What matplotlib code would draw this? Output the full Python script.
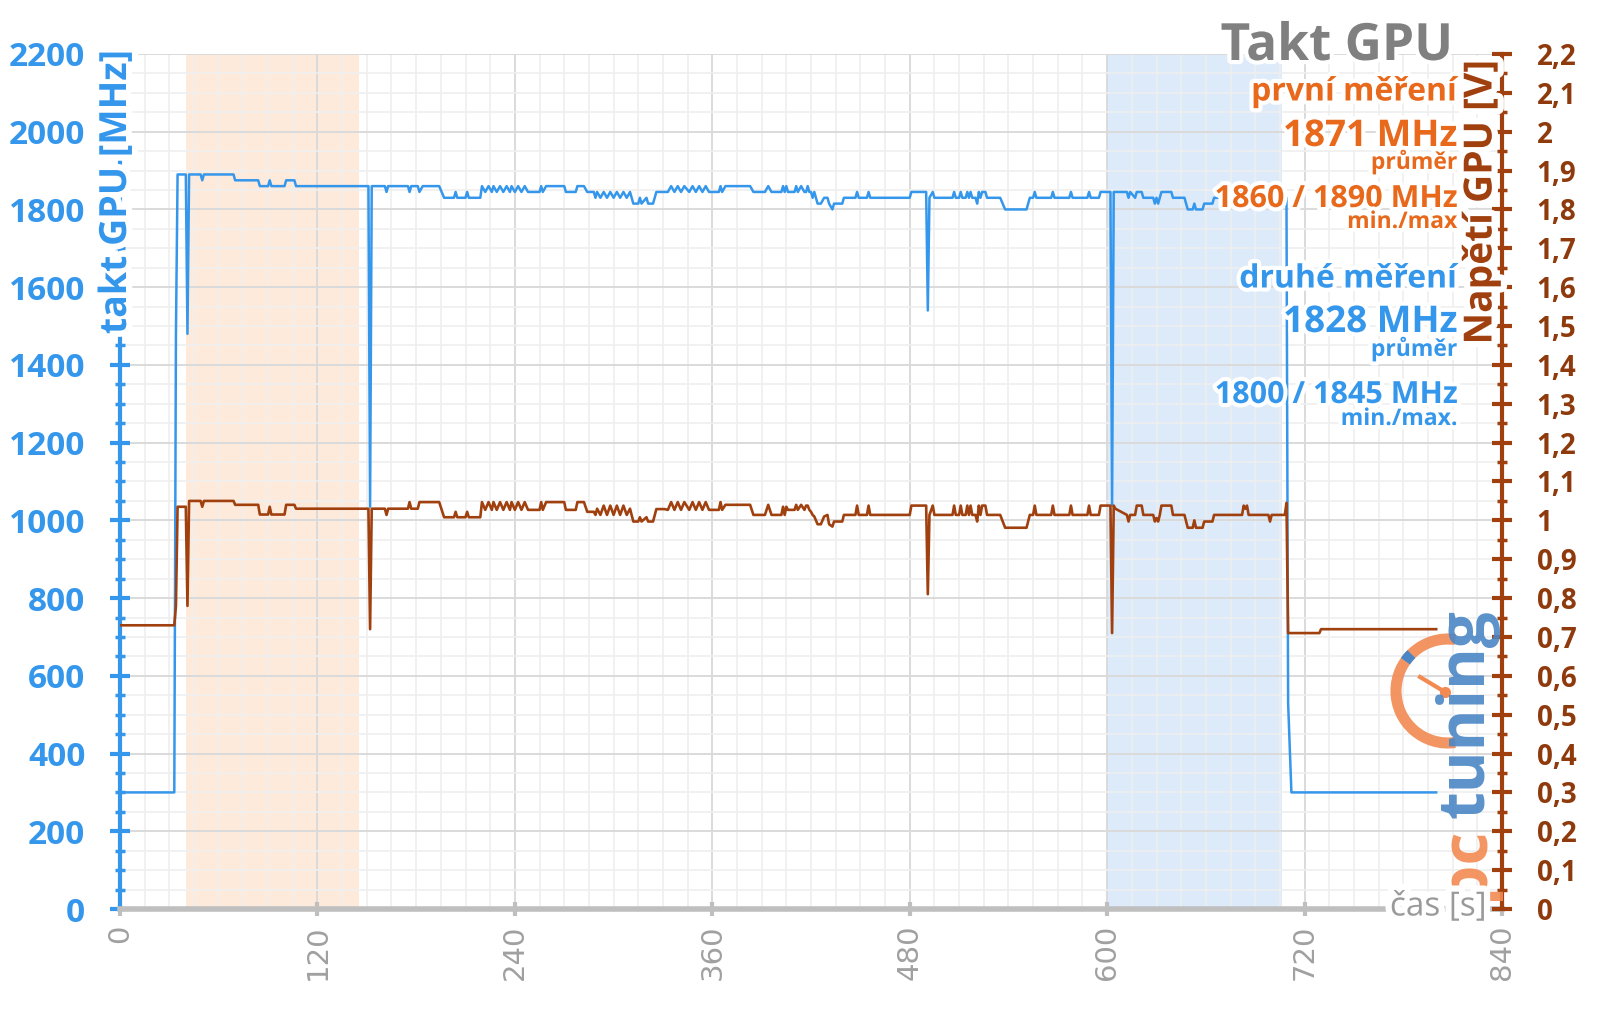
import numpy as np
import matplotlib
matplotlib.use('Agg')
import matplotlib.pyplot as plt
import matplotlib.patheffects as pe
from matplotlib.patches import Arc
from matplotlib.lines import Line2D

# barvy
modra = '#3597EC'
hneda = '#A0400F'
hneda_txt = '#8E3A0C'
oranzova = '#E8691C'
seda = '#A0A0A0'

# casove body zateze [s] (spolecne pro takt i napeti)
cas = [0, 33, 34, 35, 40, 41, 42, 49, 50, 51, 69, 70, 84, 85, 90, 91, 92, 100, 101, 106, 107, 151, 152, 153,
       161, 162, 163, 175, 176, 177, 181, 182, 184, 194,
       197, 203, 204, 205, 210, 211, 212, 219, 220, 222,
       224, 226, 227, 229, 231, 233, 235, 237, 238, 240,
       242, 244, 246, 248, 255, 256, 257, 259, 270, 271,
       277, 278, 282, 284, 288, 289, 290, 292, 294, 296,
       298, 300, 302, 304, 306, 308, 310, 312, 315, 316,
       317, 320, 321, 324, 326, 331, 333, 335, 337, 339,
       341, 343, 346, 348, 350, 352, 354, 356, 358, 364,
       365, 366, 368, 383, 385, 392, 394, 396, 402, 403,
       404, 405, 406, 410, 411, 412, 414, 416,
       417, 418, 419, 420, 421, 422, 424, 426, 428, 430,
       431, 433, 434, 439, 440, 447, 448, 449, 454, 455,
       456, 480, 481, 490, 491, 492, 494, 495, 506, 507,
       508, 510, 511, 512, 514, 515, 516, 517, 518, 520,
       521, 522, 523, 524, 526, 527, 535, 538, 551, 553,
       555, 556, 557, 566, 567, 568, 577, 578, 579, 588,
       589, 590, 595, 596, 602, 603, 604,
       605, 612, 613, 614, 617, 618, 621, 622, 628, 629,
       630, 631, 632, 633, 639, 640, 647, 649, 652, 653,
       654, 658, 659, 664, 665, 682, 683, 684, 685, 686,
       698, 699, 700, 708, 709]

takt = [300, 300, 1480, 1890, 1890, 1480, 1890, 1890, 1875, 1890, 1890, 1875, 1875, 1860, 1860, 1875, 1860, 1860, 1875, 1875, 1860, 1860, 1035, 1860,
        1860, 1845, 1860, 1860, 1845, 1860, 1860, 1845, 1860, 1860,
        1830, 1830, 1845, 1830, 1830, 1845, 1830, 1830, 1860, 1845,
        1860, 1845, 1860, 1845, 1860, 1845, 1860, 1845, 1860, 1845,
        1860, 1845, 1860, 1845, 1845, 1860, 1845, 1860, 1860, 1845,
        1845, 1860, 1860, 1845, 1845, 1830, 1845, 1830, 1845, 1830,
        1845, 1830, 1845, 1830, 1845, 1830, 1845, 1815, 1815, 1830,
        1815, 1830, 1815, 1815, 1845, 1845, 1845, 1860, 1845, 1860,
        1845, 1860, 1845, 1860, 1845, 1860, 1845, 1860, 1845, 1845,
        1860, 1845, 1860, 1860, 1845, 1845, 1860, 1845, 1845, 1860,
        1845, 1860, 1845, 1845, 1860, 1845, 1860, 1845,
        1845, 1860, 1845, 1845, 1830, 1845, 1815, 1815, 1830, 1830,
        1815, 1800, 1815, 1815, 1830, 1830, 1845, 1830, 1830, 1845,
        1830, 1830, 1845, 1845, 1540, 1830, 1845, 1830, 1830, 1845,
        1830, 1830, 1845, 1830, 1830, 1845, 1830, 1845, 1830, 1830,
        1815, 1845, 1830, 1845, 1845, 1830, 1830, 1800, 1800, 1830,
        1830, 1845, 1830, 1830, 1845, 1830, 1830, 1845, 1830, 1830,
        1845, 1830, 1830, 1845, 1845, 1040, 1845,
        1845, 1845, 1830, 1845, 1830, 1845, 1845, 1830, 1830, 1815,
        1830, 1815, 1830, 1845, 1845, 1830, 1830, 1800, 1800, 1815,
        1800, 1800, 1815, 1815, 1830, 1830, 1845, 1830, 1845, 1830,
        1830, 1815, 1830, 1830, 1830]

napeti = [0.73, 0.73, 0.78, 1.035, 1.035, 0.78, 1.05, 1.05, 1.035, 1.05, 1.05, 1.04, 1.04, 1.015, 1.015, 1.035, 1.015, 1.015, 1.04, 1.04, 1.03, 1.03, 0.72, 1.03,
          1.03, 1.014, 1.03, 1.03, 1.047, 1.03, 1.03, 1.047, 1.047, 1.047,
          1.008, 1.008, 1.022, 1.008, 1.008, 1.022, 1.008, 1.008, 1.047, 1.027,
          1.047, 1.027, 1.047, 1.027, 1.047, 1.027, 1.047, 1.027, 1.047, 1.027,
          1.047, 1.027, 1.047, 1.027, 1.027, 1.047, 1.027, 1.047, 1.047, 1.027,
          1.027, 1.047, 1.047, 1.022, 1.022, 1.014, 1.03, 1.014, 1.038, 1.014,
          1.038, 1.014, 1.038, 1.014, 1.038, 1.014, 1.03, 0.997, 0.997, 1.008,
          0.997, 1.008, 0.997, 0.997, 1.029, 1.029, 1.027, 1.047, 1.027, 1.047,
          1.027, 1.047, 1.027, 1.047, 1.027, 1.047, 1.027, 1.047, 1.027, 1.027,
          1.047, 1.027, 1.04, 1.04, 1.014, 1.014, 1.04, 1.014, 1.014, 1.035,
          1.014, 1.035, 1.027, 1.027, 1.04, 1.027, 1.04, 1.027,
          1.038, 1.038, 1.027, 1.022, 1.014, 1.01, 0.99, 0.99, 1.01, 1.014,
          0.99, 0.984, 0.997, 0.997, 1.014, 1.014, 1.038, 1.014, 1.014, 1.038,
          1.014, 1.014, 1.038, 1.038, 0.81, 1.014, 1.038, 1.014, 1.014, 1.038,
          1.014, 1.014, 1.038, 1.014, 1.014, 1.038, 1.014, 1.038, 1.014, 1.014,
          0.997, 1.038, 1.014, 1.038, 1.038, 1.014, 1.014, 0.981, 0.981, 1.014,
          1.014, 1.038, 1.014, 1.014, 1.038, 1.014, 1.014, 1.038, 1.014, 1.014,
          1.038, 1.014, 1.014, 1.038, 1.038, 0.71, 1.038,
          1.03, 1.014, 0.997, 1.014, 1.014, 1.038, 1.038, 1.014, 1.014, 0.997,
          1.006, 0.997, 1.014, 1.038, 1.038, 1.014, 1.014, 0.981, 0.981, 1.0,
          0.981, 0.981, 0.997, 0.997, 1.014, 1.014, 1.038, 1.03, 1.038, 1.014,
          1.014, 0.997, 1.014, 1.014, 1.045]

# dobeh po zatezi
cas_takt_konec = [710, 712, 800]
takt_konec = [530, 300, 300]
cas_nap_konec = [710, 729, 730, 800]
nap_konec = [0.71, 0.71, 0.72, 0.72]

# mereni (zvyraznene oblasti)
mereni1 = (40, 145)
mereni2 = (600, 706)

napeti_popisky = ['0', '0,1', '0,2', '0,3', '0,4', '0,5', '0,6', '0,7', '0,8', '0,9', '1',
                  '1,1', '1,2', '1,3', '1,4', '1,5', '1,6', '1,7', '1,8', '1,9', '2', '2,1', '2,2']

plt.rcParams['font.family'] = ['Open Sans', 'DejaVu Sans']
halo = [pe.withStroke(linewidth=6, foreground='white')]
halo_osa = [pe.withStroke(linewidth=9, foreground='white')]

fig = plt.figure(figsize=(16, 10.09), dpi=100)
ax = fig.add_axes([0.075, 0.0991, 0.86375, 0.8474])

ax.axvspan(*mereni1, color='#FDEADB', zorder=0, lw=0)
ax.axvspan(*mereni2, color='#DCEAFA', zorder=0, lw=0)

ax.plot(cas + cas_takt_konec, takt + takt_konec, color=modra, lw=1.8, zorder=3)

ax.set_xlim(0, 840)
ax.set_ylim(0, 2200)
ax.set_xticks(np.arange(0, 841, 120))
ax.set_xticks(np.arange(0, 841, 15), minor=True)
ax.set_yticks(np.arange(0, 2201, 200))
ax.set_yticks(np.arange(0, 2201, 50), minor=True)
ax.set_axisbelow(True)
ax.grid(which='major', color='#DADADA', lw=1.4)
ax.grid(which='minor', color='#EFEFEF', lw=1.2)

for s in ['top', 'right']:
    ax.spines[s].set_visible(False)
ax.spines['left'].set_color(modra)
ax.spines['left'].set_linewidth(3)
ax.spines['bottom'].set_color('#BFBFBF')
ax.spines['bottom'].set_linewidth(4)

ax.tick_params(axis='y', which='major', direction='inout', length=14, width=3, color=modra,
               labelcolor=modra, labelsize=24, pad=18)
ax.tick_params(axis='y', which='minor', direction='inout', length=7, width=2.5, color=modra)
ax.tick_params(axis='x', which='major', direction='inout', length=10, width=3, color='#BFBFBF',
               labelcolor=seda, labelsize=21, pad=6, labelrotation=90)
ax.tick_params(axis='x', which='minor', length=0)
for lab in ax.get_yticklabels():
    lab.set_fontweight('bold')
for lab in ax.get_xticklabels():
    lab.set_fontfamily(['DejaVu Sans'])

ax2 = ax.twinx()
ax2.plot(cas + cas_nap_konec, napeti + nap_konec, color=hneda, lw=1.9, zorder=3)
ax2.set_ylim(0, 2.2)
ax2.set_yticks(np.arange(0, 2.201, 0.1))
ax2.set_yticklabels(napeti_popisky)
ax2.set_yticks(np.arange(0, 2.201, 0.05), minor=True)
for s in ['top', 'left', 'bottom']:
    ax2.spines[s].set_visible(False)
ax2.spines['right'].set_color(hneda)
ax2.spines['right'].set_linewidth(3)
ax2.tick_params(axis='y', which='major', direction='inout', length=14, width=3, color=hneda,
                labelcolor=hneda_txt, labelsize=20, pad=18)
ax2.tick_params(axis='y', which='minor', direction='inout', length=7, width=2.5, color=hneda)
for lab in ax2.get_yticklabels():
    lab.set_fontweight('bold')

# popisky os
fig.text(116 / 1600, 1 - 50 / 1009, 'takt GPU [MHz]', rotation=90, ha='center', va='top',
         color=modra, fontsize=27, fontweight='bold', path_effects=halo_osa, zorder=10)
fig.text(1481 / 1600, 1 - 60 / 1009, 'Napětí GPU [V]', rotation=90, ha='center', va='top',
         color=hneda, fontsize=28, fontweight='bold', path_effects=halo_osa, zorder=10)
fig.text(1487 / 1600, 1 - 907 / 1009, 'čas [s]', ha='right', va='center',
         color='#9A9A9A', fontsize=24, path_effects=halo_osa, zorder=10)

# titulek a souhrn
xr = 1457 / 1600
fig.text(1453 / 1600, 1 - 47 / 1009, 'Takt GPU', ha='right', va='center', color='#808080',
         fontsize=37, fontweight='bold', path_effects=halo, zorder=10)
popisky = [
    ('první měření', 92, 23, oranzova),
    ('1871 MHz', 136, 26.5, oranzova),
    ('průměr', 162, 16.5, oranzova),
    ('1860 / 1890 MHz', 199, 22, oranzova),
    ('min./max', 222, 16.5, oranzova),
    ('druhé měření', 279, 23, modra),
    ('1828 MHz', 322, 26.5, modra),
    ('průměr', 349, 16.5, modra),
    ('1800 / 1845 MHz', 395, 22, modra),
    ('min./max.', 419, 16.5, modra),
]
for txt, y, fs, c in popisky:
    fig.text(xr, 1 - y / 1009, txt, ha='right', va='center', color=c, fontsize=fs,
             fontweight='bold', path_effects=halo, zorder=10)

# logo
cx, cy, r = 1448 / 1600, 1 - 691 / 1009, 52
fig.add_artist(Arc((cx, cy), 2 * r / 1600, 2 * r / 1009, theta1=85, theta2=275,
                   transform=fig.transFigure, color='#F28A52', lw=8, alpha=0.9, zorder=9))
fig.add_artist(Arc((cx, cy), 2 * r / 1600, 2 * r / 1009, theta1=122, theta2=132,
                   transform=fig.transFigure, color='#4A86C5', lw=8, zorder=9))
fig.add_artist(Line2D([1445 / 1600, 1420 / 1600], [1 - 692 / 1009, 1 - 677 / 1009],
                      transform=fig.transFigure, color='#F28A52', lw=3, zorder=9))
fig.add_artist(Line2D([1445 / 1600], [1 - 692 / 1009], marker='o', ms=7,
                      transform=fig.transFigure, color='#F28A52', zorder=9))
fig.text(1467 / 1600, 1 - 900 / 1009, 'pc', rotation=90, ha='center', va='bottom',
         color='#F28A52', fontsize=46, fontweight='bold', alpha=0.9, zorder=9)
fig.text(1467 / 1600, 1 - 818 / 1009, 'tuning', rotation=90, ha='center', va='bottom',
         color='#4A86C5', fontsize=46, fontweight='bold', alpha=0.9, zorder=9)

fig.savefig('out.png', dpi=100)
